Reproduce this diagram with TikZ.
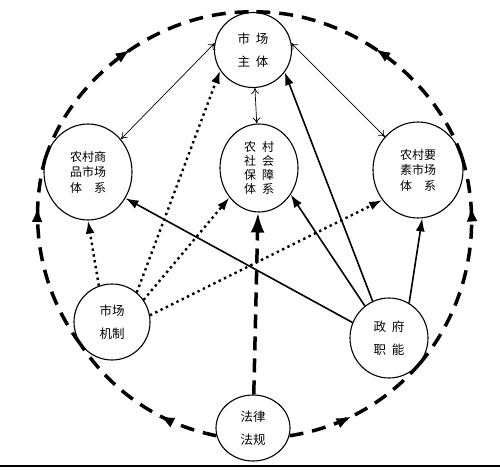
\documentclass[tikz,border=0pt]{standalone}
\usepackage{fontspec}
\usepackage{xcolor}
\usepackage{tikz}
\usetikzlibrary{arrows.meta,shapes.geometric,decorations.markings}
\newfontfamily\cjk{Noto Sans CJK SC}

\begin{document}
\begin{tikzpicture}[x=1pt, y=-1pt,
    unit/.style={draw, ellipse, fill=white, line width=1.1pt, inner sep=0pt, align=center},
    twotext/.style={font=\cjk\fontsize{12.5}{23}\selectfont},
    manytext/.style={font=\cjk\fontsize{12}{15.5}\selectfont},
    twoway/.style={{To[length=6pt,width=8pt]}-{To[length=6pt,width=8pt]}, line width=0.7pt},
    dotline/.style={-{Latex[length=13pt,width=9pt]}, line width=2.4pt, dash pattern=on 2.4pt off 3.5pt},
    govline/.style={-{Latex[length=13pt,width=9pt]}, line width=1.6pt},
    lawline/.style={-{Latex[length=20pt,width=14pt]}, line width=3.5pt, dash pattern=on 14pt off 8pt},
    loopline/.style={line width=3.5pt, dash pattern=on 14pt off 9pt, looseness=0.9,
        postaction={decorate}, decoration={markings,
        mark=at position #1 with {\pgfsetdash{}{0pt}\arrow{Latex[length=15pt,width=11pt]}}}}]
    \fill[white] (0,0) rectangle (500,470);
    \useasboundingbox (0,0) rectangle (500,470);

    \node[unit, twotext, minimum width=77pt, minimum height=75pt] (zt) at (253,50) {市\hspace{0.45em}场\\主\hspace{0.45em}体};
    \node[unit, manytext, minimum width=88pt, minimum height=96pt] (sp) at (88,172) {农村商\\品市场\\体\hspace{1em}系};
    \node[unit, manytext, minimum width=78pt, minimum height=88pt, font=\cjk\fontsize{12}{14}\selectfont] (sb) at (259,168) {农\hspace{0.5em}村\\社\hspace{0.5em}会\\保\hspace{0.5em}障\\体\hspace{0.5em}系};
    \node[unit, manytext, minimum width=90pt, minimum height=96pt] (ys) at (418,170) {农村要\\素市场\\体\hspace{1em}系};
    \node[unit, twotext, minimum width=76pt, minimum height=76pt] (mm) at (112,322) {市场\\机制};
    \node[unit, twotext, minimum width=78pt, minimum height=80pt] (zf) at (389,338) {政\hspace{0.45em}府\\职\hspace{0.45em}能};
    \node[unit, twotext, minimum width=74pt, minimum height=66pt] (fl) at (253,428) {法律\\法规};

    \draw[loopline=0.36] (fl.192) to[bend left=22.5] (mm.215);
    \draw[loopline=0.75] (mm.215) to[bend left=26] (sp.163);
    \draw[loopline=0.52] (sp.163) to[bend left=36.5] (zt.90);
    \draw[loopline=0.43] (fl.348) to[bend right=20] (zf.319);
    \draw[loopline=0.77] (zf.319) to[bend right=29] (ys.17.6);
    \draw[loopline=0.52] (ys.17.6) to[bend right=36] (zt.90);

    \draw[twoway] (zt.170) -- (sp.45);
    \draw[twoway] (zt.10) -- (ys.135);
    \draw[twoway] (zt) -- (sb);

    \draw[dotline] (mm.110) -- (sp.south);
    \draw[dotline] (mm.50) -- (zt.212);
    \draw[dotline] (mm.35) -- (sb.225);
    \draw[dotline] (mm.10) -- (ys.220);

    \draw[govline] (zf.157) -- (sp.325);
    \draw[govline] (zf.127) -- (sb.320);
    \draw[govline] (zf.114) -- (zt.325);
    \draw[govline] (zf.60) -- (ys.275);

    \draw[lawline] (fl) -- (sb);

    \draw[line width=2pt] (0,466) -- (500,466);
\end{tikzpicture}
\end{document}
